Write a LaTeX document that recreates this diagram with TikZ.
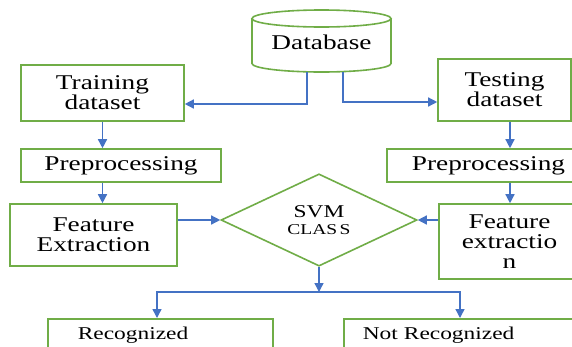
\documentclass[tikz,border=0pt]{standalone}
\usepackage{fontspec}
\setmainfont{Liberation Serif}[FakeStretch=1.3]
\usetikzlibrary{arrows.meta,shapes.geometric}
\definecolor{boxgreen}{HTML}{70AD47}
\definecolor{arrblue}{HTML}{4472C4}
\begin{document}
\begin{tikzpicture}[x=1pt,y=-1pt,
  box/.style={draw=boxgreen,line width=1.6pt,fill=white,inner sep=0pt,align=center,
    font=\fontsize{21pt}{20pt}\selectfont},
  arr/.style={draw=arrblue,line width=1.4pt,-{Triangle[length=9pt,width=9pt]}},
  lowbox/.style={draw=boxgreen,line width=1.6pt,fill=white,inner ysep=0pt,align=left,
    anchor=north west,text height=21pt,text depth=31pt,font=\fontsize{18pt}{18pt}\selectfont}]
\clip (0,0) rectangle (572,346);
\fill[white] (0,0) rectangle (572,346);
% database cylinder
\path[fill=white,draw=boxgreen,line width=1.6pt] (252,18.5) -- (252,63.5)
  arc[start angle=180,end angle=0,x radius=69.5,y radius=8.5] -- (391,18.5);
\draw[fill=white,draw=boxgreen,line width=1.6pt] (321.5,18.5) ellipse [x radius=69.5,y radius=8.5];
\node[font=\fontsize{21pt}{20pt}\selectfont] (db) at (321.5,42) {Database};
\coordinate (dbL) at (307,72);
\coordinate (dbR) at (343,72);
% boxes
\node[box,minimum width=163pt,minimum height=56pt,font=\fontsize{21pt}{17pt}\selectfont] (train) at (102.5,93) {Training\\dataset};
\node[box,minimum width=133pt,minimum height=62pt] (test) at (504.5,90) {Testing\\dataset};
\node[box,minimum width=200pt,minimum height=33pt] (prepL) at (121,165.5) {Preprocessing};
\node[box,minimum width=203pt,minimum height=33pt] (prepR) at (488.5,165.5) {Preprocessing};
\node[box,minimum width=167pt,minimum height=62pt] (featL) at (93.5,235) {Feature\\Extraction};
\node[box,minimum width=141pt,minimum height=75pt] (featR) at (509.5,241.5) {Feature\\extractio\\n};
\node[diamond,draw=boxgreen,line width=1.6pt,fill=white,minimum width=196pt,minimum height=72pt,
  inner sep=0pt,align=center,font=\fontsize{18pt}{17pt}\selectfont] (svm) at (319,220)
  {SVM\\{\fontsize{15pt}{17pt}\selectfont CLAS\,S}};
\node[lowbox,inner xsep=30pt,text width=165pt] (recog) at (47,318) {Recognized};
\node[lowbox,inner xsep=19pt,text width=219pt] (notrec) at (343,318) {Not Recognized};
% connectors
\coordinate (rx) at (510,0);
\coordinate (split) at (319,292);
\draw[arr] (dbL) |- ([yshift=-11pt]train.east);
\draw[arr] (dbR) |- ([yshift=-12pt]test.west);
\draw[arr] (train.south) -- (train.south |- prepL.north);
\draw[arr] (rx |- test.south) -- (rx |- prepR.north);
\draw[arr] (train.south |- prepL.south) -- (train.south |- featL.north);
\draw[arr] (rx |- prepR.south) -- (rx |- featR.north);
\draw[arr] (featL.east |- svm.west) -- (svm.west);
\draw[arr] (featR.west |- svm.east) -- (svm.east);
\draw[arr] (svm.south) -- (split);
\draw[arr] (split) -| ([xshift=110pt]recog.north west);
\draw[arr] (split) -| ([xshift=117pt]notrec.north west);
\end{tikzpicture}
\end{document}
